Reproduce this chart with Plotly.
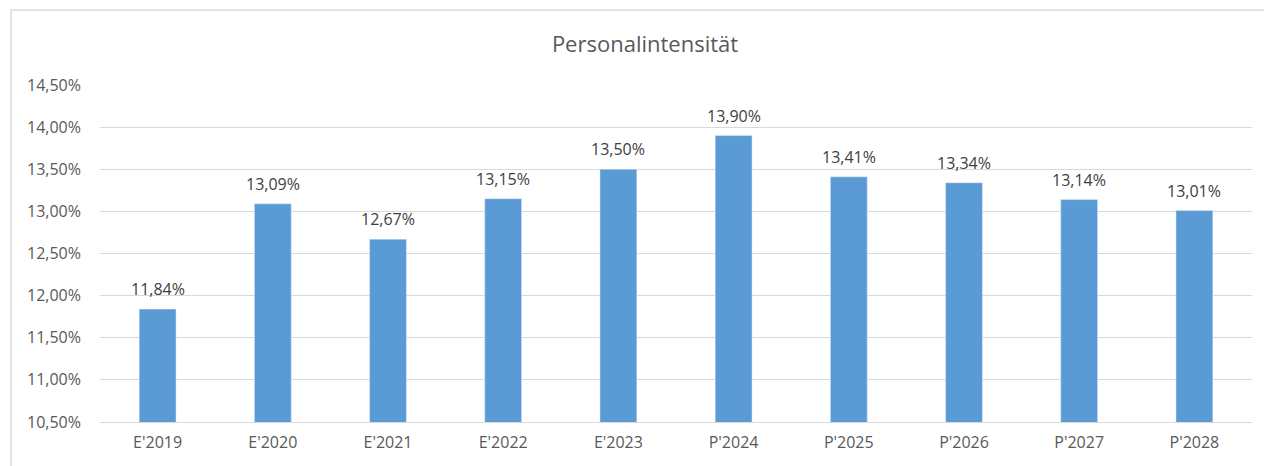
import plotly.graph_objects as go


# ==========================================================
# Data
# ==========================================================

years = [
    "E'2019", "E'2020", "E'2021", "E'2022", "E'2023",
    "P'2024", "P'2025", "P'2026", "P'2027", "P'2028"
]

intensity = [11.84, 13.09, 12.67, 13.15, 13.50, 13.90, 13.41, 13.34, 13.14, 13.01]

y_ticks = [10.5, 11.0, 11.5, 12.0, 12.5, 13.0, 13.5, 14.0, 14.5]


def de_pct(v):
    return f"{v:.2f}".replace(".", ",") + "%"


# ==========================================================
# Chart
# ==========================================================

fig = go.Figure(
    go.Bar(
        x=years,
        y=intensity,
        marker_color="#5B9BD5",
        hoverinfo="x+y"
    )
)

# value labels sit a bit above each bar
for year, value in zip(years, intensity):
    fig.add_annotation(
        x=year,
        y=value,
        text=de_pct(value),
        showarrow=False,
        yanchor="bottom",
        yshift=7,
        font=dict(size=16, color="#404040")
    )

fig.update_layout(
    width=1264,
    height=466,
    paper_bgcolor="white",
    plot_bgcolor="white",
    font=dict(family="Open Sans", color="#595959"),
    title=dict(
        text="Personalintensität",
        x=645 / 1264,
        xanchor="center",
        y=0.905,
        yanchor="middle",
        font=dict(size=22, color="#595959")
    ),
    margin=dict(l=100, r=12, t=85, b=44),
    bargap=0.68,
    showlegend=False,
    shapes=[
        dict(
            type="rect",
            xref="paper",
            yref="paper",
            x0=(11 - 100) / 1152,
            x1=1.05,
            y0=-0.3,
            y1=(422 - 10) / 337,
            line=dict(color="#e3e3e3", width=2),
            layer="below"
        )
    ]
)

fig.update_yaxes(
    range=[10.5, 14.5],
    tickvals=y_ticks,
    ticktext=[de_pct(v) for v in y_ticks],
    showgrid=True,
    gridcolor="#d9d9d9",
    gridwidth=1,
    zeroline=False,
    showline=False,
    tickfont=dict(size=16, color="#595959"),
    ticklabelstandoff=18
)

fig.update_xaxes(
    showline=True,
    linecolor="#d9d9d9",
    linewidth=1,
    ticks="",
    tickfont=dict(size=16, color="#595959"),
    ticklabelstandoff=6
)

fig.write_html(
    "out.html",
    config={"displayModeBar": False},
    post_script="document.body.style.margin = '0';"
)
